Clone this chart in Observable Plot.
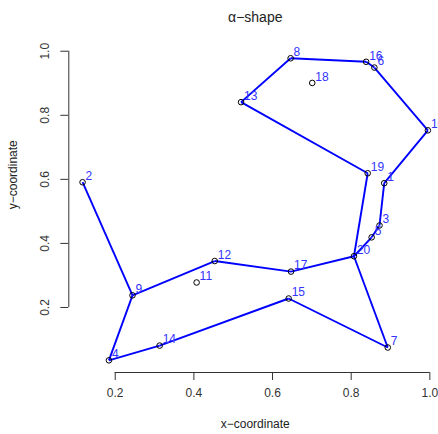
<!DOCTYPE html>
<html>
<head>
<meta charset="utf-8">
<script src="https://cdn.jsdelivr.net/npm/d3@7"></script>
<script src="https://cdn.jsdelivr.net/npm/@observablehq/plot@0.6"></script>
<style>
  html, body { margin: 0; padding: 0; background: #fff; }
  #chart svg { font-family: "Liberation Sans", Arial, sans-serif; -webkit-font-smoothing: antialiased; }
</style>
</head>
<body>
<div id="chart"></div>
<script>
const ids = [1,2,3,4,5,6,7,8,9,10,11,12,13,14,15,16,17,18,19,20];
const xs = [0.884,0.117,0.872,0.184,0.852,0.859,0.893,0.646,0.244,0.995,0.407,0.453,0.520,0.313,0.641,0.838,0.647,0.701,0.842,0.807];
const ys = [0.588,0.591,0.456,0.035,0.419,0.949,0.075,0.978,0.238,0.753,0.278,0.345,0.841,0.081,0.228,0.967,0.312,0.901,0.619,0.360];
const edgeFrom = [8,8,16,6,10,1,3,5,13,19,20,17,12,9,9,4,14,15,7];
const edgeTo   = [13,16,6,10,1,3,5,20,19,20,17,12,9,2,4,14,15,7,20];
const xTicks = [0.2,0.4,0.6,0.8,1.0];
const yTicks = [0.2,0.4,0.6,0.8,1.0];
const xDomain = [0.082, 1.022];
const yDomain = [-0.003, 1.016];
const title = "α−shape";
const xTitle = "x−coordinate";
const yTitle = "y−coordinate";

const pts = ids.map((id, i) => ({id, x: xs[i], y: ys[i]}));
const byId = new Map(pts.map(p => [p.id, p]));
const edges = edgeFrom.map((a, i) => ({a: byId.get(a), b: byId.get(edgeTo[i])}));

const chart = Plot.plot({
  width: 438,
  height: 434,
  marginLeft: 68.3,
  marginRight: 0,
  marginTop: 45.6,
  marginBottom: 62,
  style: {fontFamily: '"Liberation Sans", Arial, sans-serif', fontSize: "12px", background: "#fff", overflow: "visible"},
  x: {domain: xDomain},
  y: {domain: yDomain},
  marks: [
    Plot.link(edges, {x1: d => d.a.x, y1: d => d.a.y, x2: d => d.b.x, y2: d => d.b.y, stroke: "blue", strokeWidth: 1.9}),
    Plot.dot(pts, {x: "x", y: "y", r: 2.8, stroke: "black", strokeWidth: 1, fill: "none"}),
    Plot.text(pts, {x: "x", y: "y", text: d => String(d.id), dx: 3, dy: -6, textAnchor: "start", fill: "#3333ff", fontSize: 12}),
    Plot.ruleY([yDomain[0]], {x1: xTicks[0], x2: xTicks[xTicks.length-1], stroke: "#333"}),
    Plot.ruleX([xDomain[0]], {y1: yTicks[0], y2: yTicks[yTicks.length-1], stroke: "#333"}),
    Plot.axisX(xTicks, {anchor: "bottom", tickSize: 8, tickPadding: 8, tickFormat: d => d.toFixed(1), fontSize: 12, stroke: "#333", color: "#333", label: null}),
    Plot.axisY(yTicks, {anchor: "left", tickSize: 8, tickFormat: () => "", stroke: "#333", label: null}),
    Plot.text(yTicks, {y: d => d, frameAnchor: "left", dx: -24, rotate: -90, text: d => d.toFixed(1), fill: "#333", fontSize: 12, textAnchor: "middle"}),
    Plot.text([title], {frameAnchor: "top", dy: -33.6, dx: 1.6, text: d => d, fontSize: 14, fill: "#222"}),
    Plot.text([xTitle], {frameAnchor: "bottom", dy: 55, dx: 1.6, text: d => d, fontSize: 12, fill: "#222"}),
    Plot.text([yTitle], {frameAnchor: "left", dx: -55.5, rotate: -90, text: d => d, fontSize: 12, fill: "#222"})
  ]
});
document.getElementById("chart").appendChild(chart);
</script>
</body>
</html>
